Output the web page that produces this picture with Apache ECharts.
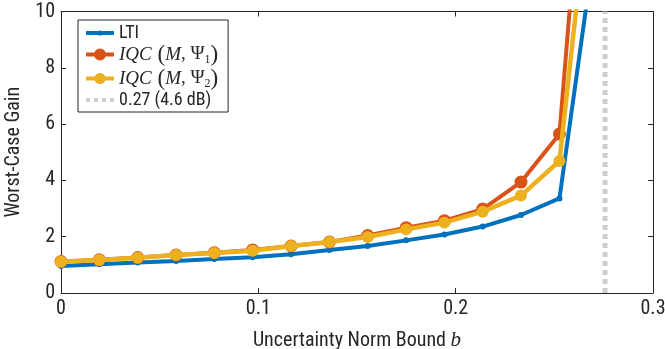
<!DOCTYPE html>
<html><head><meta charset="utf-8">
<script src="https://cdn.jsdelivr.net/npm/echarts@6/dist/echarts.min.js"></script>
<style>html,body{margin:0;padding:0;background:#fff}#c{width:665px;height:349px}</style>
</head><body><div id="c"></div>
<script>
// uncertainty norm bound b (x values); last entry is the off-chart continuation point
var bValues = [0, 0.0194, 0.0389, 0.0583, 0.0777, 0.0971, 0.1166, 0.136, 0.1554, 0.1749, 0.1943, 0.2137, 0.2331, 0.2526, 0.27];
var ltiGain  = [0.96, 1.02, 1.08, 1.14, 1.21, 1.27, 1.38, 1.53, 1.67, 1.87, 2.08, 2.36, 2.77, 3.36, 12.1];
var iqc1Gain = [1.12, 1.18, 1.26, 1.35, 1.43, 1.53, 1.67, 1.81, 2.04, 2.32, 2.57, 2.98, 3.94, 5.65, 20.5];
var iqc2Gain = [1.11, 1.17, 1.25, 1.35, 1.42, 1.50, 1.67, 1.81, 1.99, 2.26, 2.50, 2.89, 3.46, 4.69, 15.8];
var boundB = 0.2757;
var boundY = [0, 10];
var xTicks = [0, 0.1, 0.2, 0.3];
var yTicks = [0, 2, 4, 6, 8, 10];
var names = ['LTI', 'IQC1', 'IQC2', '0.27 (4.6 dB)'];

function pairs(xs, ys){ return xs.map(function(x,i){ return [x, ys[i]]; }); }

var FONT = "'Roboto Condensed','Liberation Sans',sans-serif";
var SERIF = "'Liberation Serif','DejaVu Serif',serif";
var axisCol = '#262626';

// legend icons: line sample with marker, drawn in a 28x14 box
function lineIcon(r){
  var c = 'M' + (14 - r) + ' 7 A' + r + ' ' + r + ' 0 1 1 ' + (14 + r) + ' 7 A' + r + ' ' + r + ' 0 1 1 ' + (14 - r) + ' 7 Z';
  return 'path://M0 0 L0 0 Z M28 14 L28 14 Z M0 5 L28 5 L28 9 L0 9 Z ' + c;
}
var dashIcon = 'path://M0 0 L0 0 Z M28 14 L28 14 Z M0 5 L4 5 L4 9 L0 9 Z M8 5 L12 5 L12 9 L8 9 Z M16 5 L20 5 L20 9 L16 9 Z M24 5 L28 5 L28 9 L24 9 Z';

var chart = echarts.init(document.getElementById('c'), null, {renderer:'canvas'});
var baseX = {
  type:'value', min:xTicks[0], max:xTicks[xTicks.length-1], interval:0.1,
  axisLine:{show:true, onZero:false, lineStyle:{color:axisCol, width:1}},
  axisTick:{show:true, inside:true, length:5, lineStyle:{color:axisCol}},
  splitLine:{show:false}
};
var baseY = {
  type:'value', min:yTicks[0], max:yTicks[yTicks.length-1], interval:2,
  axisLine:{show:true, onZero:false, lineStyle:{color:axisCol, width:1}},
  axisTick:{show:true, inside:true, length:5, lineStyle:{color:axisCol}},
  splitLine:{show:false}
};
chart.setOption({
  animation:false,
  grid:{left:61, right:12, top:11.5, bottom:56, containLabel:false, outerBoundsMode:'none'},
  xAxis:[
    Object.assign({}, baseX, {position:'bottom',
      axisLabel:{show:true, color:axisCol, fontFamily:FONT, fontSize:20, margin:6,
        formatter:function(v){ return v===0?'0':String(+v.toFixed(1)); }},
      name:'{t|Uncertainty Norm Bound }{b|b}', nameLocation:'middle', nameGap:37,
      nameTextStyle:{rich:{t:{fontFamily:FONT, fontSize:20, color:axisCol}, b:{fontFamily:SERIF, fontStyle:'italic', fontSize:21, color:axisCol}}}
    }),
    Object.assign({}, baseX, {position:'top', axisLabel:{show:false}})
  ],
  yAxis:[
    Object.assign({}, baseY, {position:'left',
      axisLabel:{show:true, color:axisCol, fontFamily:FONT, fontSize:20, margin:6},
      name:'Worst-Case Gain', nameLocation:'middle', nameGap:35,
      nameTextStyle:{fontFamily:FONT, fontSize:20, color:axisCol}
    }),
    Object.assign({}, baseY, {position:'right', axisLabel:{show:false}})
  ],
  legend:{
    left:78, top:20, orient:'vertical', backgroundColor:'#fff', borderColor:axisCol, borderWidth:1,
    padding:[4,10,3,8], itemGap:1, itemWidth:28, itemHeight:14, symbolKeepAspect:true,
    data:[
      {name:names[0], icon:lineIcon(2.6)},
      {name:names[1], icon:lineIcon(6)},
      {name:names[2], icon:lineIcon(5.6)},
      {name:names[3], icon:dashIcon}
    ],
    formatter:function(n){
      if(n==='IQC1') return '{i|IQC}{p| (}{i|M}{n|, Ψ}{s|1}{p|)}';
      if(n==='IQC2') return '{i|IQC}{p| (}{i|M}{n|, Ψ}{s|2}{p|)}';
      return '{a|'+n+'}';
    },
    textStyle:{rich:{
      a:{fontFamily:FONT, fontSize:18, color:axisCol, lineHeight:22},
      i:{fontFamily:SERIF, fontStyle:'italic', fontSize:19, color:axisCol, lineHeight:22},
      n:{fontFamily:SERIF, fontSize:19, color:axisCol, lineHeight:22},
      p:{fontFamily:SERIF, fontSize:23, color:axisCol, lineHeight:22},
      s:{fontFamily:SERIF, fontSize:12, color:axisCol, lineHeight:22, verticalAlign:'bottom', padding:[9,0,0,0]}
    }}
  },
  series:[
    {name:names[0], type:'line', data:pairs(bValues, ltiGain), clip:true,
     color:'#0072BD', lineStyle:{width:4, color:'#0072BD'}, symbol:'circle', symbolSize:6,
     itemStyle:{color:'#0072BD'}, z:2},
    {name:names[1], type:'line', data:pairs(bValues, iqc1Gain), clip:true,
     color:'#D95319', lineStyle:{width:4, color:'#D95319'}, symbol:'circle', symbolSize:13,
     itemStyle:{color:'#D95319'}, z:3},
    {name:names[2], type:'line', data:pairs(bValues, iqc2Gain), clip:true,
     color:'#EDB120', lineStyle:{width:4.5, color:'#EDB120'}, symbol:'circle', symbolSize:12,
     itemStyle:{color:'#EDB120'}, z:4},
    {name:names[3], type:'line', data:boundY.map(function(y){return [boundB, y];}), clip:true,
     color:'#CDCDCD', lineStyle:{width:5, color:'#CDCDCD', type:[5,4]}, symbol:'none', z:1}
  ]
});
</script></body></html>
